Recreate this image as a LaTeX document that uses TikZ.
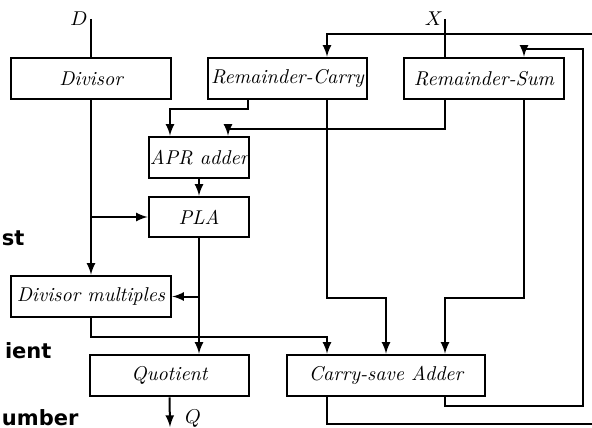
\documentclass[tikz,border=0pt]{standalone}
\usepackage{amsmath}
\usepackage{fontspec}
\newfontfamily\slidefont{DejaVu Sans}
\usetikzlibrary{calc}

\begin{document}
\begin{tikzpicture}[x=0.5pt,y=-0.5pt,>=latex,line width=1pt,
  blk/.style={draw,line width=1.3pt,minimum height=20.5pt,inner sep=0pt,font=\itshape},
  cut/.style={anchor=base west,inner sep=0pt,font=\slidefont\bfseries\fontsize{10.5}{12}\selectfont}]

\useasboundingbox (0,0) rectangle (592,427);

% Registers
\node[blk,minimum width=80pt] (div) at (91,78.5) {Divisor};
\node[blk,minimum width=79.5pt] (rc) at (287.5,78.5) {Remainder-Carry};
\node[blk,minimum width=80pt] (rs) at (484,78.5) {Remainder-Sum};

% Quotient digit selection
\node[blk,minimum width=50pt] (apr) at (199,157.5) {APR adder};
\node[blk,minimum width=50pt,minimum height=20pt] (pla) at (199,217) {PLA};

% Lower row
\node[blk,minimum width=80pt] (dm) at (91,296.5) {Divisor multiples};
\node[blk,minimum width=79.5pt] (quo) at (169.5,375.5) {Quotient};
\node[blk,minimum width=99pt] (csa) at (386,375.5) {Carry-save Adder};

% Inputs and outputs
\coordinate (din) at (91,19);
\coordinate (xin) at (445,19);
\coordinate (qout) at (170,427);
\coordinate (carryin) at (592,34);
\coordinate (carryout) at (592,424);
\coordinate (sumup) at (583,49);
\node (dlab) at (79,19) {$D$};
\node (xlab) at (434,19) {$X$};
\node (qlab) at (193,419) {$Q$};

\draw (din) -- (div.north);
\draw (xin) -- ($(rs.north)-(39,0)$);
\draw[->] (quo.south) -- (qout);

% Divisor paths
\draw[->] (div.south) -- (dm.north);
\draw[->] (div.south |- pla.west) -- (pla.west);
\draw[->] (dm.south) -- ++(0,19) -| ($(csa.north)-(59,0)$);

% Remainder into APR adder
\draw[->] ($(rc.south)-(39.5,0)$) -- ++(0,9) -| ($(apr.north)-(29,0)$);
\draw[->] ($(rs.south)-(39,0)$) -- ++(0,29) -| ($(apr.north)+(29,0)$);
\draw[->] (apr.south) -- (pla.north);
\draw[->] (pla.south) -- (pla.south |- quo.north);
\draw[->] (pla.south |- dm.east) -- (dm.east);

% Remainder into carry-save adder
\draw[->] ($(rc.south)+(39.5,0)$) -- ++(0,198) -| (csa.north);
\draw[->] ($(rs.south)+(40,0)$) -- ++(0,198) -| ($(csa.north)+(59,0)$);

% Feedback
\draw[->] ($(csa.south)+(59,0)$) -- ++(0,9) -| (sumup) -| ($(rs.north)+(40,0)$);
\draw ($(csa.south)-(59,0)$) |- (carryout);
\draw[->] (carryin) -| ($(rc.north)+(39.5,0)$);

% Slide text at the left edge
\node[cut] (t1) at (1,245) {st};
\node[cut] (t2) at (4,358) {ient};
\node[cut] (t3) at (1,425) {umber};

\end{tikzpicture}
\end{document}
